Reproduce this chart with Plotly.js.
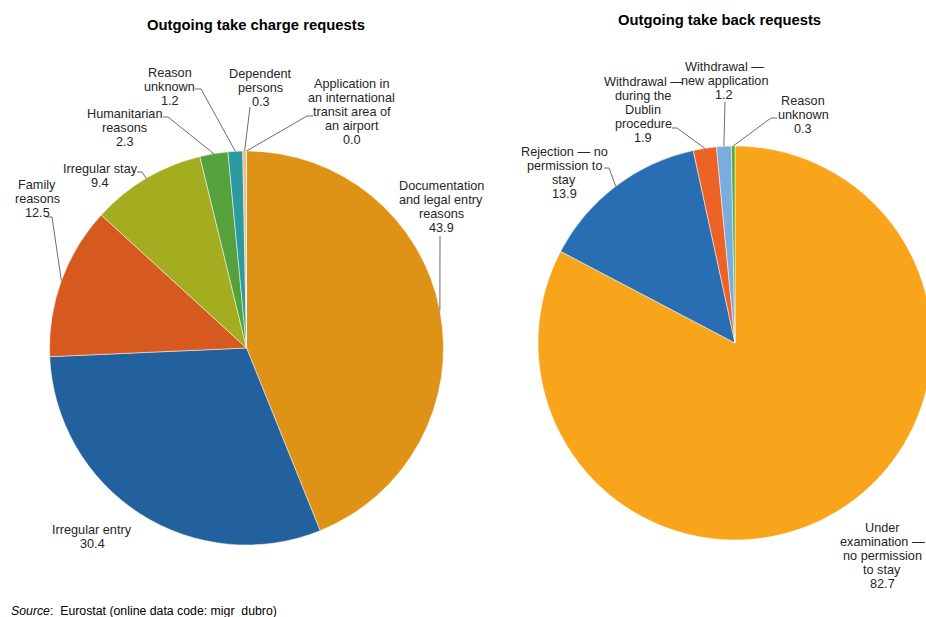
<!DOCTYPE html>
<html><head><meta charset="utf-8">
<script src="https://cdn.plot.ly/plotly-3.0.1.min.js"></script>
<style>html,body{margin:0;padding:0;overflow:hidden;background:#fff;width:926px;height:617px}#chart{width:940px;height:617px}</style>
</head><body><div id="chart"></div><script>
// ---- data ----
const chargeTitle = "Outgoing take charge requests";
const chargeLabels = ["Documentation<br>and legal entry<br>reasons", "Irregular entry", "Family<br>reasons", "Irregular stay", "Humanitarian<br>reasons", "Reason<br>unknown", "Dependent<br>persons", "Application in<br>an international<br>transit area of<br>an airport"];
const chargeValues = [43.9, 30.4, 12.5, 9.4, 2.3, 1.2, 0.3, 0.0];
const chargeColors = ["#DE9317", "#22619E", "#D65A20", "#A3AD1F", "#55A13B", "#2B9BA0", "#F8B988", "#F4A460"];

const backTitle = "Outgoing take back requests";
const backLabels = ["Under<br>examination —<br>no permission<br>to stay", "Rejection — no<br>permission to<br>stay", "Withdrawal —<br>during the<br>Dublin<br>procedure", "Withdrawal —<br>new application", "Reason<br>unknown"];
const backValues = [82.7, 13.9, 1.9, 1.2, 0.3];
const backColors = ["#F9A51C", "#296DB2", "#EC6325", "#79ADE0", "#5AAF31"];

const sourceText = "<i>Source</i>:  Eurostat (online data code: migr_dubro)";

// ---- layout (pixels) ----
const W = 940, H = 617;
const px = x => x / W, py = y => 1 - y / H;
const leftPie = {cx: 246.5, cy: 348, r: 197};
const rightPie = {cx: 735, cy: 343, r: 197};
const LH = 14;
// label placement: centre x, first line y, leader bend points (label side)
const chargePlace = [
  {x: 441, y: 186, lead: [[440, 236]]},
  {x: 92, y: 530, lead: null},
  {x: 37, y: 185, lead: [[46, 217], [52, 217]]},
  {x: 100, y: 169, lead: [[137, 172], [142, 172]]},
  {x: 124.5, y: 114, lead: [[163, 117], [168, 117]]},
  {x: 169.5, y: 73, lead: [[195, 89], [201, 89]]},
  {x: 260.5, y: 74, lead: [[250, 107]]},
  {x: 351.5, y: 84, lead: [[313, 116], [307, 116]]}
];
const backPlace = [
  {x: 882, y: 528, lead: null},
  {x: 564, y: 152, lead: [[604, 168], [609, 168]]},
  {x: 643, y: 82, lead: [[672, 128], [677, 128]]},
  {x: 724, y: 67, lead: [[725, 102]]},
  {x: 803, y: 101, lead: [[777, 118], [771, 118]]}
];

function domainOf(p) {
  return {x: [px(p.cx - p.r), px(p.cx + p.r)], y: [py(p.cy + p.r), py(p.cy - p.r)]};
}

const font = {family: "Liberation Sans, Arial, sans-serif", size: 12.7, color: "#262626"};
const annotations = [];
const shapes = [];

function addLabels(labels, values, place, pie) {
  const total = values.reduce((a, b) => a + b, 0);
  let cum = 0;
  labels.forEach((lab, i) => {
    const mid = (cum + values[i] / 2) / total;
    cum += values[i];
    const pl = place[i];
    const lines = (lab + "<br>" + values[i].toFixed(1)).split("<br>");
    lines.forEach((ln, k) => {
      annotations.push({xref: "paper", yref: "paper", x: px(pl.x), y: py(pl.y + k * LH),
        text: ln, showarrow: false, xanchor: "center", yanchor: "middle", font: font});
    });
    if (pl.lead) {
      const ang = mid * 2 * Math.PI;
      const ax = pie.cx + pie.r * Math.sin(ang);
      const ay = pie.cy - pie.r * Math.cos(ang);
      const pts = [[ax, ay]].concat(pl.lead.slice().reverse());
      const path = pts.map((p, k) => (k ? "L" : "M") + px(p[0]).toFixed(5) + "," + py(p[1]).toFixed(5)).join(" ");
      shapes.push({type: "path", xref: "paper", yref: "paper", path: path,
        line: {color: "#6b6b6b", width: 1}});
    }
  });
}
addLabels(chargeLabels, chargeValues, chargePlace, leftPie);
addLabels(backLabels, backValues, backPlace, rightPie);

annotations.push({xref: "paper", yref: "paper", x: px(256), y: py(25), text: "<b>" + chargeTitle + "</b>",
  showarrow: false, xanchor: "center", yanchor: "middle", font: {family: font.family, size: 14.8, color: "#000"}});
annotations.push({xref: "paper", yref: "paper", x: px(719), y: py(20), text: "<b>" + backTitle + "</b>",
  showarrow: false, xanchor: "center", yanchor: "middle", font: {family: font.family, size: 14.8, color: "#000"}});
annotations.push({xref: "paper", yref: "paper", x: px(9), y: py(611), text: sourceText,
  showarrow: false, xanchor: "left", yanchor: "middle", font: {family: font.family, size: 12.3, color: "#000"}});

const traces = [
  {type: "pie", labels: chargeLabels, values: chargeValues, sort: false, direction: "clockwise", rotation: 0,
   marker: {colors: chargeColors, line: {color: "#ffffff", width: 0.5}}, textinfo: "none", hoverinfo: "skip",
   domain: domainOf(leftPie)},
  {type: "pie", labels: backLabels, values: backValues, sort: false, direction: "clockwise", rotation: 0,
   marker: {colors: backColors, line: {color: "#ffffff", width: 0.5}}, textinfo: "none", hoverinfo: "skip",
   domain: domainOf(rightPie)}
];

const layout = {width: W, height: H, margin: {l: 0, r: 0, t: 0, b: 0}, showlegend: false,
  paper_bgcolor: "#ffffff", plot_bgcolor: "#ffffff", annotations: annotations, shapes: shapes, font: font};

Plotly.newPlot("chart", traces, layout, {staticPlot: true, displayModeBar: false});
</script></body></html>
